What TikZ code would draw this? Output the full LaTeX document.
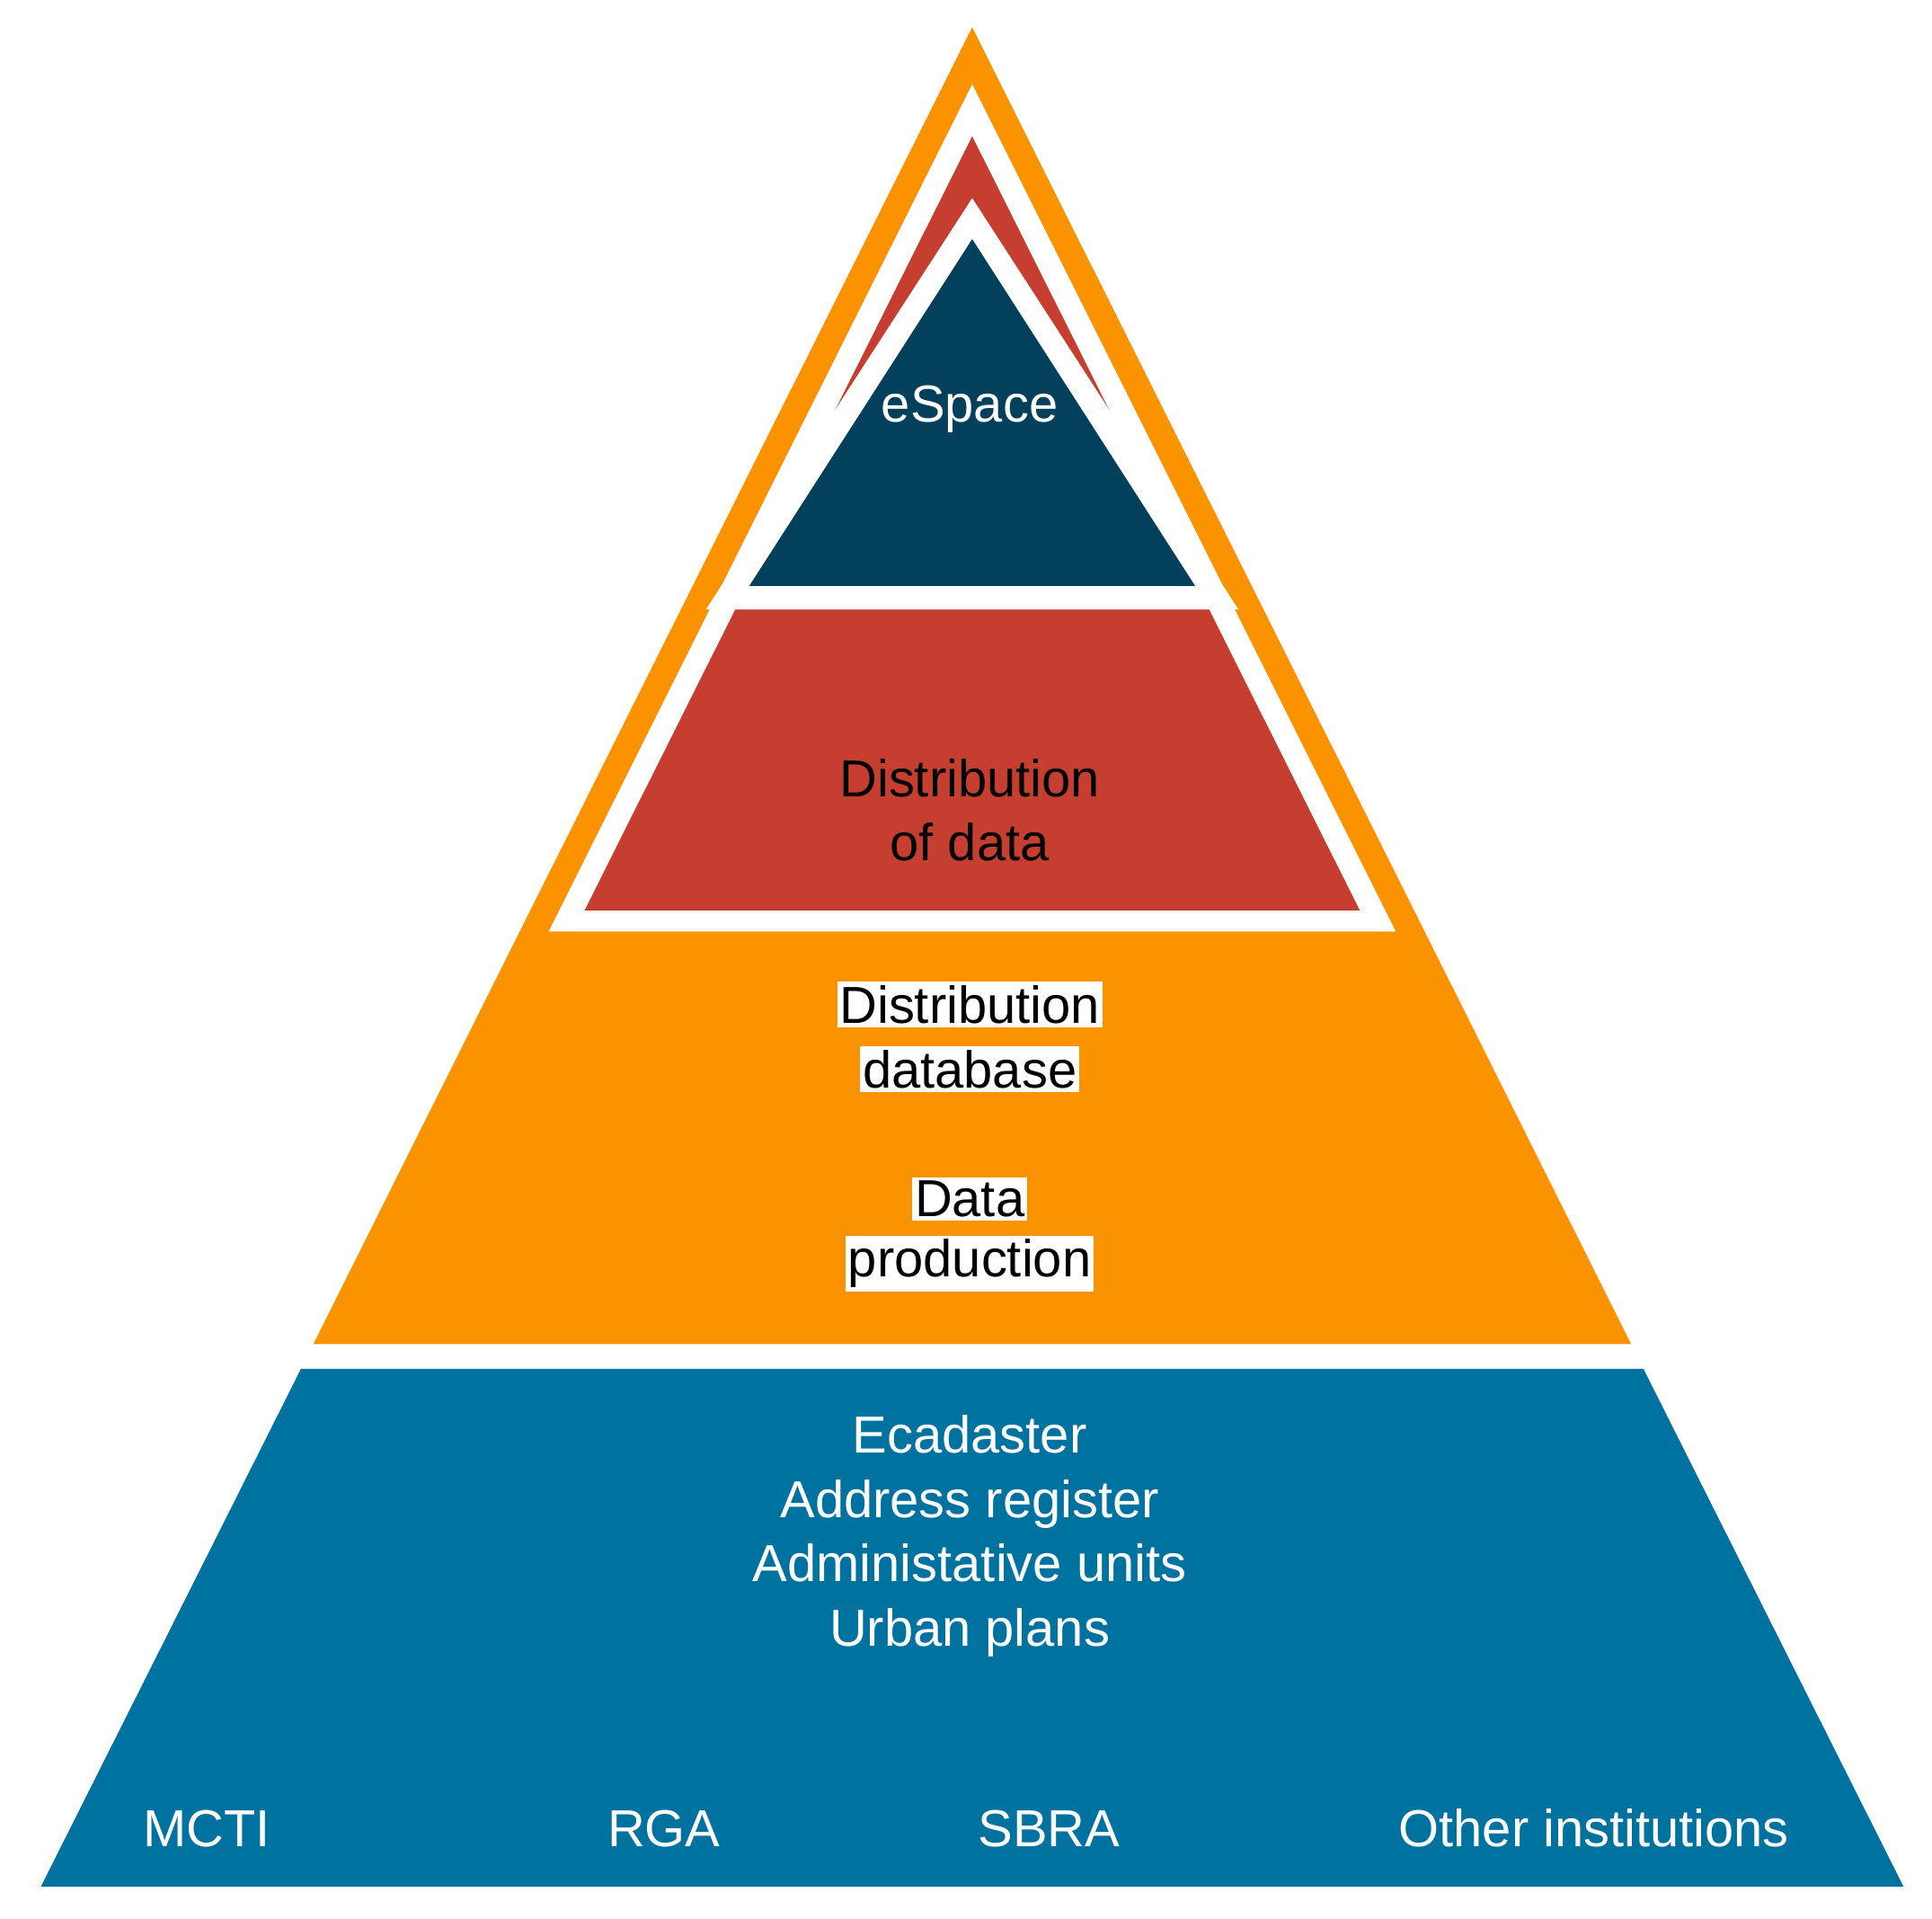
\documentclass[tikz,border=0pt]{standalone}
\usepackage{fontspec}
\setmainfont{Liberation Sans}
\definecolor{org}{HTML}{FB9300}
\definecolor{rd}{HTML}{C53E2F}
\definecolor{dk}{HTML}{02405C}
\definecolor{bl}{HTML}{0072A0}
\begin{document}
\begin{tikzpicture}[x=1pt,y=-1pt,
  lbl/.style={font=\fontsize{42}{52}\selectfont,align=center,inner sep=0pt},
  hl/.style={lbl,fill=white,text=black,inner xsep=2pt,inner ysep=3pt}]
\useasboundingbox (0,0) rectangle (1560,1549);
\fill[org] (785,22) -- (1317,1085) -- (253,1085) -- cycle;
\fill[white] (785,68) -- (1127,752) -- (443,752) -- cycle;
\fill[rd] (785,110) -- (1098,735) -- (472,735) -- cycle;
\fill[white] (785,160) -- (1000,492) -- (570,492) -- cycle;
\fill[dk] (785,193) -- (965,473) -- (605,473) -- cycle;
\fill[bl] (243,1105) -- (1327,1105) -- (1537,1523) -- (33,1523) -- cycle;
\node[lbl,text=white] (esp) at (783,330) {eSpace};
\node[lbl,text=black] (dod) at (783,654) {Distribution\\of data};
\node[hl] (d1) at (783,811) {Distribution};
\node[hl] (d2) at (783,863) {database};
\node[hl] (p1) at (783,968) {Data};
\node[hl] (p2) at (783,1020) {production};
\node[lbl,text=white] (reg) at (783,1240) {Ecadaster\\Address register\\Administative units\\Urban plans};
\node[lbl,text=white] (m) at (167,1476) {MCTI};
\node[lbl,text=white] (r) at (536,1476) {RGA};
\node[lbl,text=white] (s) at (847,1476) {SBRA};
\node[lbl,text=white] (o) at (1287,1476) {Other institutions};
\end{tikzpicture}
\end{document}
